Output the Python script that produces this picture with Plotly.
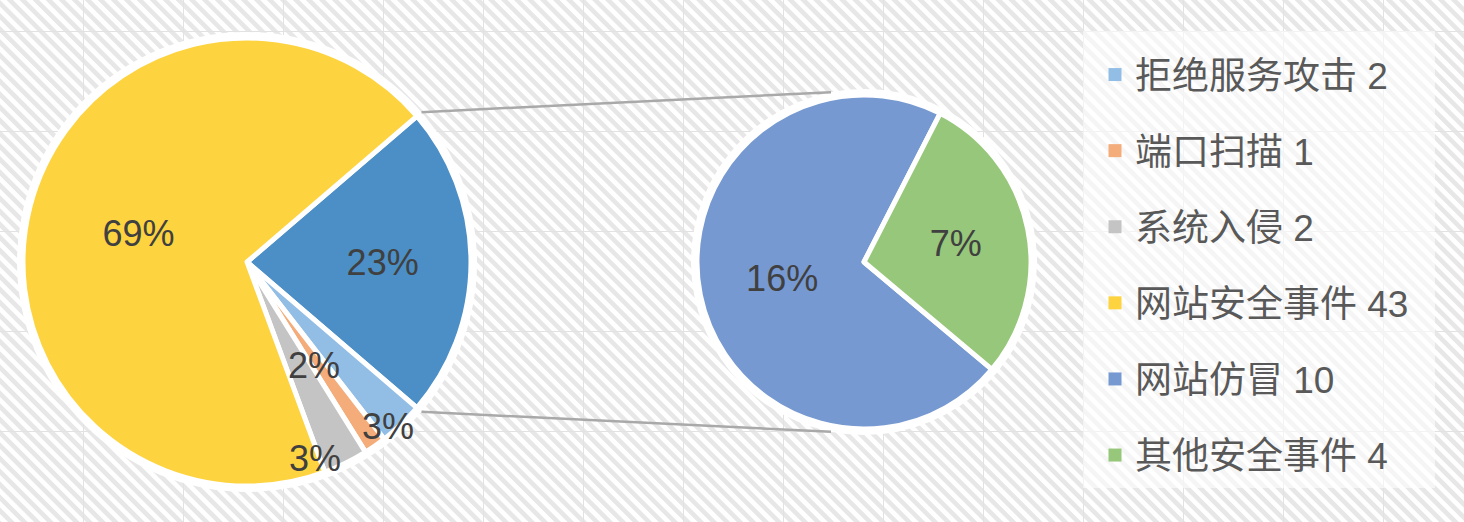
import base64
import math
import plotly.graph_objects as go

# ---------------- data ----------------
main_labels = ["其他", "拒绝服务攻击", "端口扫描", "系统入侵", "网站安全事件"]
detail_values = [2, 1, 2, 43]            # 拒绝服务攻击, 端口扫描, 系统入侵, 网站安全事件
sub_labels = ["网站仿冒", "其他安全事件"]
sub_values = [10, 4]
main_values = [sum(sub_values)] + detail_values
main_pct_text = ["23%", "3%", "2%", "3%", "69%"]
sub_pct_text = ["16%", "7%"]

legend_names = ["拒绝服务攻击", "端口扫描", "系统入侵", "网站安全事件", "网站仿冒", "其他安全事件"]
legend_values = [2, 1, 2, 43, 10, 4]

# ---------------- style ----------------
W, H = 1464, 522
main_colors = ["#4B8FC6", "#92BEE6", "#F4AC7A", "#C4C4C4", "#FDD33F"]
sub_colors = ["#7799D1", "#97C77A"]
legend_colors = ["#92BEE6", "#F4AC7A", "#C4C4C4", "#FDD33F", "#7799D1", "#97C77A"]
FONT = "Liberation Sans, Noto Sans CJK SC, sans-serif"
LABEL_COLOR = "#404040"

main_c = (247, 262, 224)   # centre x, centre y (px from top), radius
sub_c = (864, 262, 167)
HALO = 6
sub_rotation = 130

# small-slice labels drawn next to their slices: index -> (radius fraction, angle nudge)
outer_labels = {1: (0.965, 3), 2: (0.55, 2), 3: (0.93, 7)}


def domain(c):
    cx, cy, r = c
    return dict(x=[(cx - r) / W, (cx + r) / W], y=[(H - cy - r) / H, (H - cy + r) / H])


def px_to_paper(x, y):
    return x / W, 1 - y / H


# ---------------- background (hatched sheet with faint grid) ----------------
grid = "".join(
    f'<line x1="{x}.5" y1="0" x2="{x}.5" y2="{H}" stroke="#E2E2E2" stroke-width="1"/>'
    for x in range(83, W, 100)
) + "".join(
    f'<line x1="0" y1="{y}.5" x2="{W}" y2="{y}.5" stroke="#E2E2E2" stroke-width="1"/>'
    for y in range(31, H, 100)
)
svg = (
    f'<svg xmlns="http://www.w3.org/2000/svg" width="{W}" height="{H}" viewBox="0 0 {W} {H}">'
    '<defs><pattern id="p" width="12" height="9.2" patternUnits="userSpaceOnUse" '
    'patternTransform="rotate(45)"><rect width="12" height="4.6" fill="#E7E7E7"/></pattern></defs>'
    f'<rect width="{W}" height="{H}" fill="#FFFFFF"/>'
    f'<rect width="{W}" height="{H}" fill="url(#p)"/>'
    f'{grid}</svg>'
)
bg_uri = "data:image/svg+xml;base64," + base64.b64encode(svg.encode()).decode()

fig = go.Figure()

# ---------------- pies ----------------
main_total = sum(main_values)
main_rotation = 90 - 180 * main_values[0] / main_total   # combined slice centred on the right

main_text = [t if i not in outer_labels else "" for i, t in enumerate(main_pct_text)]
fig.add_trace(go.Pie(
    labels=main_labels, values=main_values, sort=False, direction="clockwise",
    rotation=main_rotation, domain=domain(main_c),
    marker=dict(colors=main_colors, line=dict(color="#FFFFFF", width=5)),
    text=main_text, texttemplate="%{text}", textposition="inside",
    insidetextorientation="horizontal",
    textfont=dict(size=36, color=LABEL_COLOR, family=FONT),
    showlegend=False, hoverinfo="label+value+percent",
))
fig.add_trace(go.Pie(
    labels=sub_labels, values=sub_values, sort=False, direction="clockwise",
    rotation=sub_rotation, domain=domain(sub_c),
    marker=dict(colors=sub_colors, line=dict(color="#FFFFFF", width=5)),
    text=sub_pct_text, texttemplate="%{text}", textposition="inside",
    insidetextorientation="horizontal",
    textfont=dict(size=36, color=LABEL_COLOR, family=FONT),
    showlegend=False, hoverinfo="label+value",
))

# labels of the thin slices, placed from the slice angles
annotations = []
cum = main_rotation
cx, cy, r = main_c
for i, v in enumerate(main_values):
    span = 360 * v / main_total
    mid = cum + span / 2
    cum += span
    if i in outer_labels:
        rf, nudge = outer_labels[i]
        a = math.radians(mid + nudge)
        x, y = px_to_paper(cx + rf * r * math.sin(a), cy - rf * r * math.cos(a))
        annotations.append(dict(
            x=x, y=y, xref="paper", yref="paper", text=main_pct_text[i], showarrow=False,
            xanchor="center", yanchor="middle",
            font=dict(size=36, color=LABEL_COLOR, family=FONT),
        ))

# ---------------- legend (one entry per category) ----------------
for name, val, col in zip(legend_names, legend_values, legend_colors):
    fig.add_trace(go.Scatter(
        x=[None], y=[None], mode="markers", name=f"{name} {val}",
        legendgroup=name,
        marker=dict(symbol="square", size=13, color=col),
        hoverinfo="skip",
    ))

# ---------------- decorations ----------------
shapes = []
for c in (main_c, sub_c):
    ccx, ccy, rr = c
    x0, y1 = px_to_paper(ccx - rr - HALO, ccy - rr - HALO)
    x1, y0 = px_to_paper(ccx + rr + HALO, ccy + rr + HALO)
    shapes.append(dict(type="circle", xref="paper", yref="paper", x0=x0, x1=x1, y0=y0, y1=y1,
                       fillcolor="#FFFFFF", line=dict(width=0), layer="below"))

# connector lines from the combined slice edges to the secondary pie
start_a = main_rotation
end_a = main_rotation + 360 * main_values[0] / main_total
scx, scy, sr = sub_c
for a_main, a_sub in ((start_a, -11), (end_a, 191)):
    am = math.radians(a_main)
    asb = math.radians(a_sub)
    p0 = px_to_paper(cx + (r + HALO) * math.sin(am), cy - (r + HALO) * math.cos(am))
    p1 = px_to_paper(scx + (sr + HALO) * math.sin(asb), scy - (sr + HALO) * math.cos(asb))
    shapes.append(dict(type="line", xref="paper", yref="paper", x0=p0[0], y0=p0[1],
                       x1=p1[0], y1=p1[1], line=dict(color="#A9A9A9", width=2.5), layer="below"))

# legend panel
lx0, ly1 = px_to_paper(1083, 31)
lx1, ly0 = px_to_paper(1435, 488)
shapes.append(dict(type="rect", xref="paper", yref="paper", x0=lx0, x1=lx1, y0=ly0, y1=ly1,
                   fillcolor="rgba(255,255,255,0.6)", line=dict(width=0), layer="below"))

fig.update_layout(
    width=W, height=H,
    margin=dict(l=0, r=0, t=0, b=0),
    paper_bgcolor="#FFFFFF", plot_bgcolor="rgba(0,0,0,0)",
    xaxis=dict(visible=False), yaxis=dict(visible=False),
    images=[dict(source=bg_uri, xref="paper", yref="paper", x=0, y=1, sizex=1, sizey=1,
                 xanchor="left", yanchor="top", sizing="stretch", layer="below")],
    shapes=shapes,
    annotations=annotations,
    legend=dict(
        x=1095 / W, xanchor="left", y=1 - 44 / H, yanchor="top",
        bgcolor="rgba(0,0,0,0)", borderwidth=0,
        font=dict(size=37, color="#595959", family=FONT),
        tracegroupgap=25, itemsizing="trace",
    ),
    hovermode=False,
)

fig.write_html(
    "out.html",
    config={"displayModeBar": False},
    post_script="document.body.style.margin='0';document.body.style.overflow='hidden';",
)
